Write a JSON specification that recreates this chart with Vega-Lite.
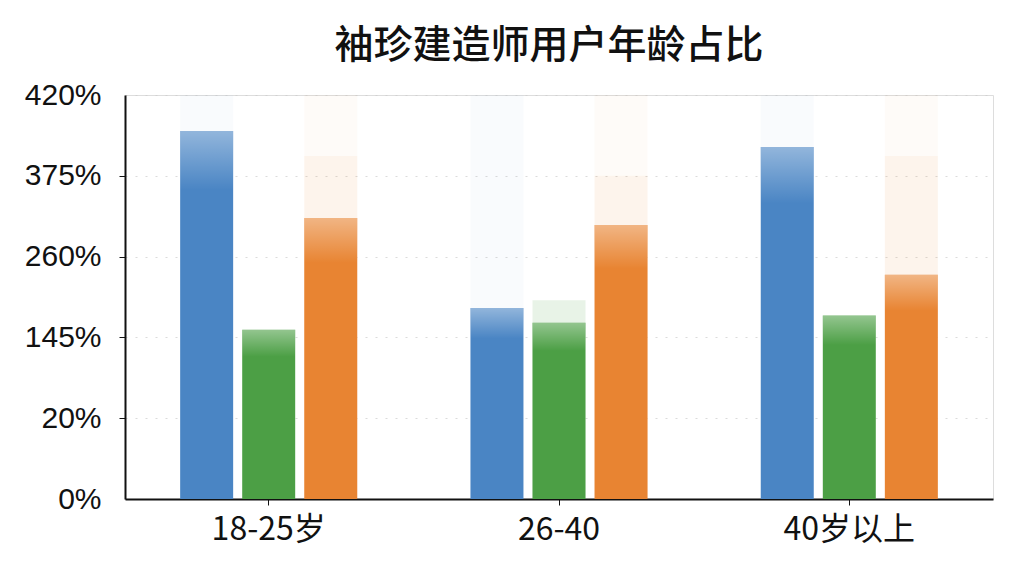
{
  "$schema": "https://vega.github.io/schema/vega-lite/v6.json",
  "width": 868,
  "height": 404,
  "autosize": {"type": "none"},
  "padding": {"left": 125, "top": 95, "right": 31, "bottom": 77},
  "background": "white",
  "title": {
    "text": "袖珍建造师用户年龄占比",
    "font": "Noto Sans CJK SC",
    "fontSize": 39,
    "fontWeight": 500,
    "color": "#111111",
    "anchor": "middle",
    "dx": -10,
    "offset": 14
  },
  "datasets": {
    "bars": [
      {"group": "18-25岁", "series": "A", "value": 400},
      {"group": "18-25岁", "series": "B", "value": 156},
      {"group": "18-25岁", "series": "C", "value": 315},
      {"group": "26-40", "series": "A", "value": 187},
      {"group": "26-40", "series": "B", "value": 166},
      {"group": "26-40", "series": "C", "value": 305},
      {"group": "40岁以上", "series": "A", "value": 391},
      {"group": "40岁以上", "series": "B", "value": 176},
      {"group": "40岁以上", "series": "C", "value": 234}
    ],
    "ghost": [
      {"group": "18-25岁", "series": "A", "value": 420},
      {"group": "18-25岁", "series": "C", "value": 420},
      {"group": "26-40", "series": "A", "value": 420},
      {"group": "26-40", "series": "C", "value": 420},
      {"group": "40岁以上", "series": "A", "value": 420},
      {"group": "40岁以上", "series": "C", "value": 420}
    ],
    "halo": [
      {"group": "18-25岁", "series": "C", "value": 386},
      {"group": "26-40", "series": "B", "value": 198},
      {"group": "26-40", "series": "C", "value": 375},
      {"group": "40岁以上", "series": "C", "value": 386}
    ]
  },
  "encoding": {
    "x": {
      "field": "group",
      "type": "nominal",
      "sort": ["18-25岁", "26-40", "40岁以上"],
      "scale": {"paddingInner": 0.39, "paddingOuter": 0.19},
      "axis": {
        "title": null,
        "labelAngle": 0,
        "labelFont": "Noto Sans CJK SC",
        "labelFontSize": 32,
        "labelColor": "#111111",
        "labelPadding": 9,
        "tickSize": 6,
        "tickColor": "#111111",
        "domainColor": "#111111",
        "domainWidth": 2,
        "grid": false
      }
    },
    "xOffset": {
      "field": "series",
      "type": "nominal",
      "sort": ["A", "B", "C"],
      "scale": {"domain": ["A", "B", "C"], "paddingInner": 0.146, "paddingOuter": 0}
    },
    "y": {
      "field": "value",
      "type": "quantitative",
      "scale": {
        "domain": [0, 20, 145, 260, 375, 420],
        "range": [404, 323.2, 242.4, 161.6, 80.8, 0],
        "nice": false
      },
      "axis": {
        "title": null,
        "values": [0, 20, 145, 260, 375, 420],
        "labelExpr": "datum.value + '%'",
        "labelFont": "Liberation Sans",
        "labelFontSize": 30,
        "labelColor": "#111111",
        "labelPadding": 18,
        "tickSize": 6,
        "tickColor": "#111111",
        "tickOpacity": {"condition": {"test": "datum.value == 0 || datum.value == 420", "value": 0}, "value": 1},
        "domainColor": "#111111",
        "domainWidth": 2,
        "grid": true,
        "gridColor": "#cccccc",
        "gridDash": [2, 8],
        "gridOpacity": 0.7
      }
    },
    "color": {
      "field": "series",
      "type": "nominal",
      "scale": {"domain": ["A", "B", "C"], "range": ["#4a85c4", "#4c9f45", "#e88432"]},
      "legend": null
    }
  },
  "layer": [
    {
      "data": {"name": "ghost"},
      "mark": {"type": "bar", "opacity": 0.035}
    },
    {
      "data": {"name": "halo"},
      "mark": {"type": "bar"},
      "encoding": {
        "opacity": {
          "field": "series",
          "type": "nominal",
          "scale": {"domain": ["B", "C"], "range": [0.13, 0.06]},
          "legend": null
        }
      }
    },
    {
      "data": {"name": "bars"},
      "mark": {"type": "bar"}
    },
    {
      "data": {"name": "bars"},
      "mark": {
        "type": "bar",
        "fill": {
          "gradient": "linear",
          "x1": 0, "y1": 0, "x2": 0, "y2": 1,
          "stops": [
            {"offset": 0, "color": "rgba(255,255,255,0.4)"},
            {"offset": 0.1, "color": "rgba(255,255,255,0.15)"},
            {"offset": 0.16, "color": "rgba(255,255,255,0)"},
            {"offset": 1, "color": "rgba(255,255,255,0)"}
          ]
        }
      },
      "encoding": {"color": {"value": null}}
    }
  ]
}
